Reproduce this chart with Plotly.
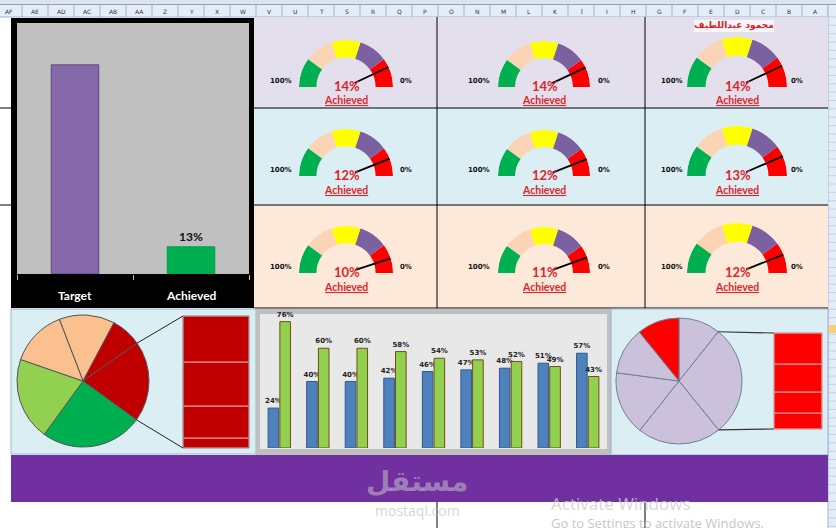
import math
import plotly.graph_objects as go

W, H = 836, 528
FONT = "Lato"

# ---------------- data ----------------
summary_categories = ["Target", "Achieved"]
summary_values = [1.00, 0.13]
summary_text = ["", "13%"]
summary_colors = ["#8568AA", "#00B050"]

gauge_values = [[14, 14, 14], [12, 12, 13], [10, 11, 12]]   # % per panel, rows top->bottom
gauge_bands = [20, 20, 20, 20, 20]                          # band widths in %, from 0% upward
gauge_band_colors = ["#FF0000", "#7B61A0", "#FFFF00", "#FBD3B5", "#00B050"]
gauge_caption = "Achieved"
gauge_low_label = "0%"
gauge_high_label = "100%"

cluster_categories = [str(i) for i in range(1, 10)]
cluster_blue = [24, 40, 40, 42, 46, 47, 48, 51, 57]
cluster_green = [76, 60, 60, 58, 54, 53, 52, 49, 43]

pie1_values = [49, 27, 71, 90, 73, 50]
pie1_colors = ["#FAC090", "#C00000", "#C00000", "#00B050", "#92D050", "#FAC090"]
pie1_split = [10, 32, 44, 46]          # secondary stacked bar, bottom -> top
pie2_values = [38.6, 102.4, 77.5, 59, 43.5, 39]
pie2_colors = ["#CCC1DA"] * 5 + ["#FF0000"]
pie2_split = [16, 21, 28, 31]

column_letters = ["AF", "AE", "AD", "AC", "AB", "AA", "Z", "Y", "X", "W", "V", "U", "T", "S",
                  "R", "Q", "P", "O", "N", "M", "L", "K", "J", "I", "H", "G", "F", "E", "D",
                  "C", "B", "A"]
author_name = "محمود عبداللطيف"


# ---------------- helpers ----------------
def X(px):
    return px / W


def Y(py):
    return 1 - py / H


shapes = []
annotations = []


def rect(x0, y0, x1, y1, fill, line=None, lw=0, layer="below"):
    shapes.append(dict(type="rect", xref="paper", yref="paper",
                       x0=X(x0), x1=X(x1), y0=Y(y1), y1=Y(y0),
                       fillcolor=fill, line=dict(color=line or fill, width=lw), layer=layer))


def seg(x0, y0, x1, y1, color, lw=1, layer="below"):
    shapes.append(dict(type="line", xref="paper", yref="paper",
                       x0=X(x0), y0=Y(y0), x1=X(x1), y1=Y(y1),
                       line=dict(color=color, width=lw), layer=layer))


def ann(text, x, y, size, color, bold=False, family=FONT, xanchor="center", **kw):
    annotations.append(dict(text=text, x=X(x), y=Y(y), xref="paper", yref="paper",
                            showarrow=False, xanchor=xanchor, yanchor="middle",
                            font=dict(size=size, color=color, family=family,
                                      weight="bold" if bold else "normal"), **kw))


# ---------------- background sheet ----------------
rect(0, 0, 836, 528, "#FFFFFF")
rect(0, 0, 836, 4, "#DCE4EE")
seg(0, 4.5, 836, 4.5, "#8DA2BA")
rect(0, 5, 828, 17, "#E4ECF7")
seg(0, 17, 828, 17, "#9EB6CE")
for k, letter in enumerate(column_letters):
    ann(letter, 9 + 26 * k, 11.5, 6, "#333333", family="DejaVu Sans")
    seg(22 + 26 * k, 5, 22 + 26 * k, 17, "#9EB6CE")
# row header column
rect(828, 5, 836, 528, "#E4ECF7")
seg(828, 5, 828, 528, "#9EB6CE")
yy = 17.0
while yy < 528:
    seg(828, yy, 836, yy, "#A9BFD6", lw=0.6)
    yy += 8.35
rect(828, 325, 836, 333, "#F7CF79")

# gauge panels
rect(254, 17, 828, 108, "#E4DFEC")
rect(254, 108, 828, 205, "#DAEEF3")
rect(254, 205, 828, 308, "#FDE9D9")
seg(0, 108, 828, 108, "#000000")
seg(0, 205, 828, 205, "#000000")
seg(254, 308, 828, 308, "#000000")
seg(437, 17, 437, 308, "#000000")
seg(645, 17, 645, 308, "#000000")

# summary panel
rect(11, 18, 254, 308, "#000000")
rect(17, 23, 249, 274, "#C0C0C0")

# bottom panels
rect(11, 309, 256, 454, "#DAEEF3", line="#9BB4D0", lw=1)
rect(256, 309, 611, 455, "#BFBFBF")
rect(260, 314, 607, 449, "#E8E8E8")
rect(611, 309, 828, 455, "#DAEEF3", line="#9BB4D0", lw=1)
rect(11, 455, 828, 502, "#7030A0")
seg(437, 502, 437, 528, "#000000")
seg(645, 502, 645, 528, "#000000")

# author name tag
rect(694, 20, 774, 32, "#F7F6F8")
ann(author_name, 734, 26, 9, "#E0201E", bold=True, family="DejaVu Sans")

fig = go.Figure()

# ---------------- summary bar chart ----------------
fig.add_trace(go.Bar(
    x=summary_categories, y=summary_values, text=summary_text,
    textposition="outside", constraintext="none", cliponaxis=False,
    textfont=dict(size=12, color="#111111", family=FONT, weight="bold"),
    marker=dict(color=summary_colors, line=dict(color=["#5E4A80", "#00A048"], width=1)),
    width=0.41, xaxis="x", yaxis="y", hoverinfo="skip"))
for cat in summary_categories:
    annotations.append(dict(text=cat, x=cat, y=Y(295), xref="x", yref="paper",
                            showarrow=False, xanchor="center", yanchor="middle",
                            font=dict(size=12, color="#FFFFFF", family=FONT, weight="bold")))

# ---------------- gauges ----------------
gauge_cx = [346, 544, 737]
gauge_cy = [87, 176, 273]
gauge_r = [47, 46, 50]
band_widths = [b * 1.8 for b in gauge_bands]
band_centers = []
acc = 0
for b in band_widths:
    band_centers.append(acc + b / 2)
    acc += b

polars = {}
idx = 0
for i, row in enumerate(gauge_values):
    for j, v in enumerate(row):
        idx += 1
        name = "polar" if idx == 1 else f"polar{idx}"
        cx, cy, R = gauge_cx[j], gauge_cy[i], gauge_r[j]
        polars[name] = dict(
            domain=dict(x=[X(cx - R), X(cx + R)], y=[Y(cy), Y(cy - R)]),
            sector=[0, 180], bgcolor="rgba(0,0,0,0)", hole=0,
            radialaxis=dict(visible=False, range=[0, 1], showgrid=False),
            angularaxis=dict(visible=False, showgrid=False, rotation=0, direction="counterclockwise"),
        )
        fig.add_trace(go.Barpolar(
            r=[0.37] * len(gauge_bands), base=[0.63] * len(gauge_bands),
            theta=band_centers, width=band_widths,
            marker=dict(color=gauge_band_colors, line=dict(width=0)),
            subplot=name, hoverinfo="skip"))
        fig.add_trace(go.Scatterpolar(
            r=[0.2, 1.0], theta=[v * 1.8, v * 1.8], mode="lines",
            line=dict(color="#000000", width=1.8), subplot=name, hoverinfo="skip"))
        ann(gauge_high_label, cx - 65, cy - 6, 7, "#111111", bold=True, family="DejaVu Sans")
        ann(gauge_low_label, cx + 60, cy - 6, 7, "#111111", bold=True, family="DejaVu Sans")
        ann(f"{v}%", cx + 1, cy - 1, 13, "#E0242A", bold=True)
        ann(f"<u>{gauge_caption}</u>", cx, cy + 13.5, 10.5, "#E0242A", bold=True)

# ---------------- clustered bars ----------------
fig.add_trace(go.Bar(
    x=cluster_categories, y=[v / 100 for v in cluster_blue], text=[f"{v}%" for v in cluster_blue],
    textposition="outside", constraintext="none", cliponaxis=False,
    textfont=dict(size=7, color="#222222", family="DejaVu Sans", weight="bold"),
    marker=dict(color="#4F81BD", line=dict(color="#2F5A8A", width=1)),
    xaxis="x2", yaxis="y2", hoverinfo="skip"))
fig.add_trace(go.Bar(
    x=cluster_categories, y=[v / 100 for v in cluster_green], text=[f"{v}%" for v in cluster_green],
    textposition="outside", constraintext="none", cliponaxis=False,
    textfont=dict(size=7, color="#222222", family="DejaVu Sans", weight="bold"),
    marker=dict(color="#92D050", line=dict(color="#7A4A12", width=1)),
    xaxis="x2", yaxis="y2", hoverinfo="skip"))

# ---------------- pie of pie charts ----------------
p1_cx, p1_cy, p1_r, p1_rot = 83, 381, 66, -21
p2_cx, p2_cy, p2_r, p2_rot = 679, 381, 63, 0
fig.add_trace(go.Pie(
    values=pie1_values, sort=False, direction="clockwise", rotation=p1_rot,
    marker=dict(colors=pie1_colors, line=dict(color="#555555", width=1)),
    textinfo="none", hoverinfo="skip",
    domain=dict(x=[X(p1_cx - p1_r), X(p1_cx + p1_r)], y=[Y(p1_cy + p1_r), Y(p1_cy - p1_r)])))
fig.add_trace(go.Pie(
    values=pie2_values, sort=False, direction="clockwise", rotation=p2_rot,
    marker=dict(colors=pie2_colors, line=dict(color="#6F7F99", width=1)),
    textinfo="none", hoverinfo="skip",
    domain=dict(x=[X(p2_cx - p2_r), X(p2_cx + p2_r)], y=[Y(p2_cy + p2_r), Y(p2_cy - p2_r)])))


def cum_base(vals):
    out, s = [], 0
    for v in vals:
        out.append(s)
        s += v
    return out


fig.add_trace(go.Bar(
    x=[0] * len(pie1_split), y=pie1_split, base=cum_base(pie1_split), width=1,
    marker=dict(color="#C00000", line=dict(color="#EBA3A3", width=1)),
    xaxis="x3", yaxis="y3", hoverinfo="skip"))
fig.add_trace(go.Bar(
    x=[0] * len(pie2_split), y=pie2_split, base=cum_base(pie2_split), width=1,
    marker=dict(color="#FF0000", line=dict(color="#F5A8A8", width=1)),
    xaxis="x4", yaxis="y4", hoverinfo="skip"))

b1 = (183, 316, 249, 448)
b2 = (774, 333, 822, 429)
rect(b1[0], b1[1], b1[2], b1[3], "rgba(0,0,0,0)", line="#8C7F7F", lw=1, layer="above")
rect(b2[0], b2[1], b2[2], b2[3], "rgba(0,0,0,0)", line="#C98080", lw=1, layer="above")


def boundary_angle(vals, rot, k):
    return rot + sum(vals[:k]) * 360.0 / sum(vals)


def pie_pt(cx, cy, r, ang):
    a = math.radians(ang)
    return cx + r * math.sin(a), cy - r * math.cos(a)


for (k, by) in [(2, b1[1]), (3, b1[3])]:
    px, py = pie_pt(p1_cx, p1_cy, p1_r, boundary_angle(pie1_values, p1_rot, k))
    seg(px, py, b1[0], by, "#222222", lw=1, layer="above")
for (k, by) in [(1, b2[1]), (2, b2[3])]:
    px, py = pie_pt(p2_cx, p2_cy, p2_r, boundary_angle(pie2_values, p2_rot, k))
    seg(px, py, b2[0], by, "#333333", lw=1.2, layer="above")

# ---------------- overlays (watermarks) ----------------
ann("مستقل", 417, 481, 28, "rgba(205,205,205,0.5)", bold=True, family="DejaVu Sans")
ann("mostaql.com", 417, 510, 14, "rgba(200,200,200,0.75)", family="Open Sans")
ann("Activate Windows", 549, 503, 17, "rgba(205,205,205,0.8)", family="Open Sans", xanchor="left")
ann("Go to Settings to activate Windows.", 549, 523, 13, "rgba(190,190,190,0.9)",
    family="Open Sans", xanchor="left")

# ---------------- layout ----------------
hidden = dict(visible=False, showgrid=False, zeroline=False, fixedrange=True)
fig.update_layout(
    width=W, height=528, autosize=False,
    margin=dict(l=0, r=0, t=0, b=0, pad=0),
    paper_bgcolor="#FFFFFF", plot_bgcolor="rgba(0,0,0,0)",
    showlegend=False, barmode="group", bargap=0.39, bargroupgap=0.1,
    xaxis=dict(domain=[X(17), X(249)], anchor="y", showgrid=False, zeroline=False,
               showline=False, showticklabels=False, ticks="outside", tickson="boundaries",
               ticklen=5, tickcolor="#BFBFBF", tickwidth=1, fixedrange=True),
    yaxis=dict(domain=[Y(274), Y(23)], anchor="x", range=[0, 1.2], **hidden),
    xaxis2=dict(domain=[X(260), X(607)], anchor="y2", **hidden),
    yaxis2=dict(domain=[Y(448), Y(315)], anchor="x2", range=[0, 0.8], **hidden),
    xaxis3=dict(domain=[X(b1[0]), X(b1[2])], anchor="y3", range=[-0.5, 0.5], **hidden),
    yaxis3=dict(domain=[Y(b1[3]), Y(b1[1])], anchor="x3", range=[0, sum(pie1_split)], **hidden),
    xaxis4=dict(domain=[X(b2[0]), X(b2[2])], anchor="y4", range=[-0.5, 0.5], **hidden),
    yaxis4=dict(domain=[Y(b2[3]), Y(b2[1])], anchor="x4", range=[0, sum(pie2_split)], **hidden),
    shapes=shapes, annotations=annotations,
    font=dict(family=FONT),
    **polars,
)

fig.write_html("out.html")
